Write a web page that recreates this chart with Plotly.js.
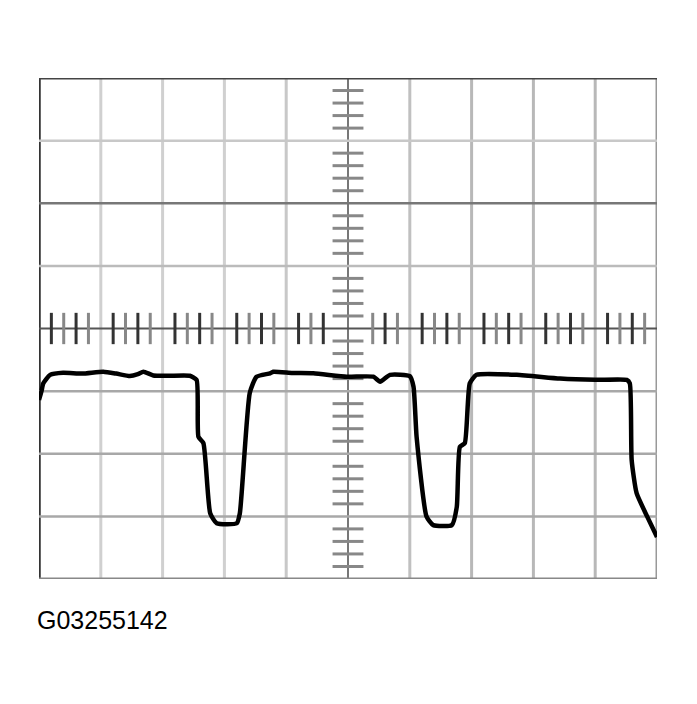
<!DOCTYPE html>
<html>
<head>
<meta charset="utf-8">
<script src="https://cdn.plot.ly/plotly-3.0.1.min.js"></script>
<style>html,body{margin:0;padding:0;background:#fff;}#chart{width:697px;height:704px;}</style>
</head>
<body>
<div id="chart"></div>
<script>
// Trace values in screen divisions (x: 0..10, y: -4..4)
var traceX = [0.0, 0.04, 0.07, 0.18, 0.39, 0.7, 1.04, 1.25, 1.47, 1.6, 1.69, 1.85, 2.1, 2.44, 2.55, 2.58, 2.66, 2.77, 2.875, 3.2, 3.25, 3.41, 3.52, 3.74, 3.79, 4.1, 4.44, 4.98, 5.41, 5.52, 5.68, 6.0, 6.06, 6.11, 6.27, 6.38, 6.68, 6.76, 6.81, 6.89, 6.97, 7.08, 7.73, 8.43, 9.0, 9.51, 9.56, 9.59, 9.67, 9.84, 10.0];
var traceY = [-1.14, -1.0, -0.875, -0.74, -0.706, -0.72, -0.69, -0.72, -0.76, -0.73, -0.69, -0.75, -0.755, -0.755, -0.82, -1.73, -1.83, -2.95, -3.11, -3.11, -2.95, -1.03, -0.77, -0.716, -0.69, -0.71, -0.716, -0.77, -0.77, -0.85, -0.74, -0.76, -0.93, -1.73, -3.0, -3.14, -3.14, -2.85, -1.89, -1.83, -0.875, -0.74, -0.74, -0.8, -0.82, -0.82, -0.875, -2.1, -2.63, -3.0, -3.33];
var figureLabel = "G03255142";

var xDivs = [0,1,2,3,4,5,6,7,8,9,10];
var yDivs = [-4,-3,-2,-1,0,1,2,3,4];
var vGridColors = ["#333","#d0d0d0","#d0d0d0","#d0d0d0","#c8c8c8","#777","#c0c0c0","#b8b8b8","#b8b8b8","#b8b8b8","#999"];
var hGridColors = ["#888","#a8a8a8","#a8a8a8","#a8a8a8","#555","#bbb","#777","#c8c8c8","#444"];

var shapes = [];
xDivs.forEach(function(x,i){
  shapes.push({type:'line',xref:'x',yref:'y',x0:x,x1:x,y0:-4,y1:4,layer:'below',
    line:{color:vGridColors[i],width:(i===0)?3.5:(i===5?2:3)}});
});
yDivs.forEach(function(y,i){
  shapes.push({type:'line',xref:'x',yref:'y',x0:0,x1:10,y0:y,y1:y,layer:'below',
    line:{color:hGridColors[i],width:(i===0||i===8)?3:(i===4?2:2.5)}});
});
// Graticule minor ticks on centre lines
for (var d=0; d<10; d++){
  for (var k=1; k<=4; k++){
    var tx = d + k*0.2;
    if (Math.abs(tx-5) < 0.25) continue;
    shapes.push({type:'line',xref:'x',yref:'y',x0:tx,x1:tx,y0:-0.25,y1:0.25,layer:'below',
      line:{color:(k%2? '#333':'#888'),width:3}});
  }
}
for (var e=-4; e<4; e++){
  for (var m=1; m<=4; m++){
    var ty = e + m*0.2;
    shapes.push({type:'line',xref:'x',yref:'y',x0:4.75,x1:5.25,y0:ty,y1:ty,layer:'below',
      line:{color:'#888',width:3}});
  }
}

var data = [{
  x: traceX, y: traceY, type:'scatter', mode:'lines',
  line:{color:'#000',width:4.5,shape:'spline',smoothing:0.5},
  hoverinfo:'skip', cliponaxis:false
}];

var layout = {
  width:697, height:704,
  margin:{l:39,r:40,t:78,b:125},
  paper_bgcolor:'#fff', plot_bgcolor:'#fff',
  showlegend:false,
  xaxis:{range:[0,10],showgrid:false,zeroline:false,showticklabels:false,ticks:'',showline:false,fixedrange:true},
  yaxis:{range:[-4,4],showgrid:false,zeroline:false,showticklabels:false,ticks:'',showline:false,fixedrange:true},
  shapes: shapes,
  annotations:[{
    text: figureLabel, xref:'paper', yref:'paper', x:-0.006, y:-0.081,
    xanchor:'left', yanchor:'middle', showarrow:false,
    font:{family:'Liberation Sans, Arial, sans-serif',size:25,color:'#000'}
  }]
};
Plotly.newPlot('chart', data, layout, {displayModeBar:false,staticPlot:true});
</script>
</body>
</html>
